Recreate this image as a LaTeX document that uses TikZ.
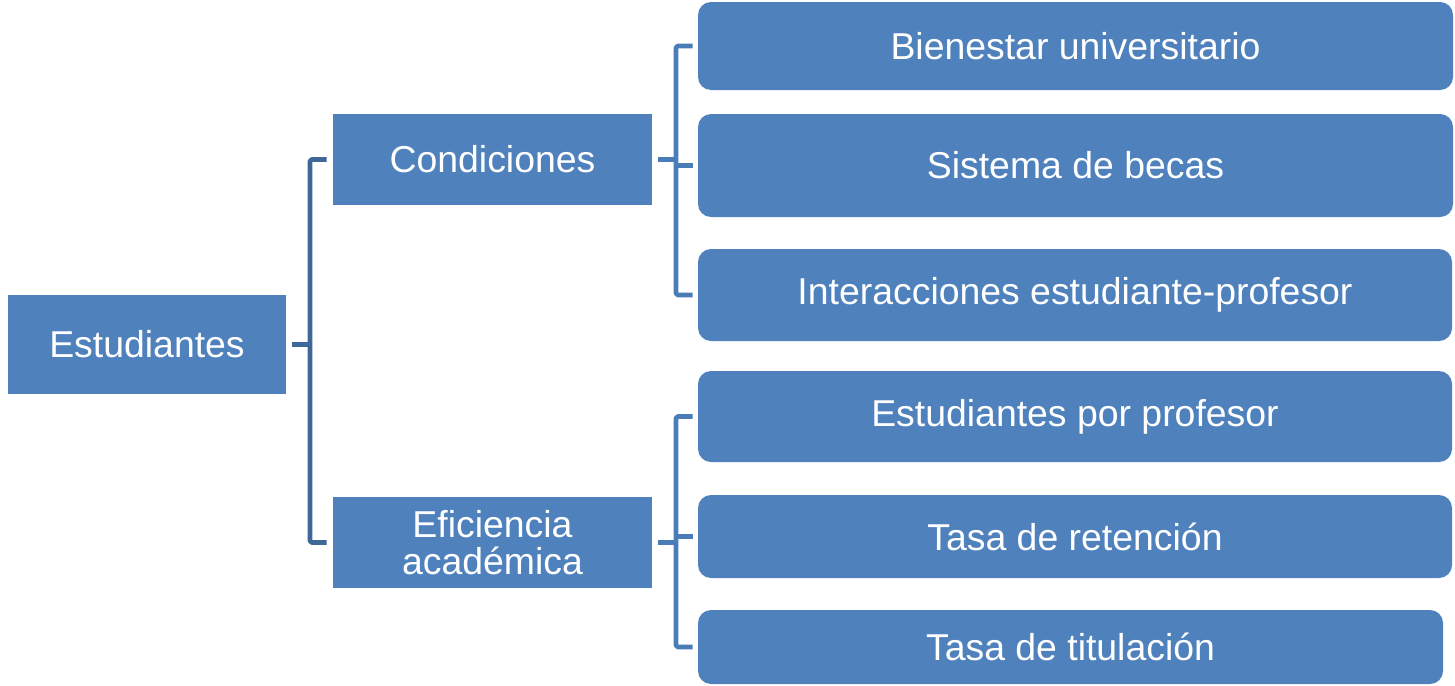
\documentclass[tikz,border=0pt]{standalone}
\usepackage{fontspec}
\setmainfont{Liberation Sans}
\definecolor{boxblue}{HTML}{4F81BD}
\definecolor{lineL}{HTML}{3E6898}
\definecolor{lineR}{HTML}{4A7CB8}
\begin{document}
\begin{tikzpicture}[x=0.5pt,y=-0.5pt,
  box/.style={fill=boxblue,draw=none,text=white,inner sep=0pt,align=center,
    font=\fontsize{18.7}{18.6}\selectfont},
  leafbox/.style={box,rounded corners=6.5pt},
  conn/.style={line width=2.3pt,line join=round,rounded corners=0.8pt},
  connL/.style={conn,draw=lineL},
  connR/.style={conn,draw=lineR}]
\useasboundingbox (0,0) rectangle (1455,685);
% main nodes
\node[box,minimum width=139pt,minimum height=49.5pt] (est) at (147,344.5) {Estudiantes};
\node[box,minimum width=159.5pt,minimum height=45.5pt] (cond) at (492.5,159.5) {Condiciones};
\node[box,minimum width=159.5pt,minimum height=45.5pt] (efic) at (492.5,542.5) {Eficiencia\\acad\'emica};
% leaves
\node[leafbox,minimum width=377.5pt,minimum height=44pt] (bien) at (1075.5,46) {Bienestar universitario};
\node[leafbox,minimum width=377.5pt,minimum height=51.5pt] (beca) at (1075.5,165.5) {Sistema de becas};
\node[leafbox,minimum width=377pt,minimum height=46pt] (inter) at (1075,295) {Interacciones estudiante-profesor};
\node[leafbox,minimum width=377pt,minimum height=45.5pt] (epp) at (1075,416.5) {Estudiantes por profesor};
\node[leafbox,minimum width=377pt,minimum height=41.5pt] (ret) at (1075,536.5) {Tasa de retenci\'on};
\node[leafbox,minimum width=372.5pt,minimum height=37pt] (tit) at (1070.5,647) {Tasa de titulaci\'on};
% bracket coordinates
\coordinate (jL) at (310,344.5);
\coordinate (jC) at (676,159.5);
\coordinate (jE) at (676,542.5);
% left bracket
\draw[connL] ([xshift=3pt]est.east) -- (jL);
\draw[connL] ([xshift=-3pt]cond.west) -- (cond.west -| jL) -- (efic.west -| jL) -- ([xshift=-3pt]efic.west);
% Condiciones bracket
\draw[connR] ([xshift=3pt]cond.east) -- (jC);
\draw[connR] ([xshift=-2.5pt]bien.west) -- (bien.west -| jC) -- (inter.west -| jC) -- ([xshift=-2.5pt]inter.west);
\draw[connR] (beca.west -| jC) -- ([xshift=-2.5pt]beca.west);
% Eficiencia bracket
\draw[connR] ([xshift=3pt]efic.east) -- (jE);
\draw[connR] ([xshift=-2.5pt]epp.west) -- (epp.west -| jE) -- (tit.west -| jE) -- ([xshift=-2.5pt]tit.west);
\draw[connR] (ret.west -| jE) -- ([xshift=-2.5pt]ret.west);
\end{tikzpicture}
\end{document}
